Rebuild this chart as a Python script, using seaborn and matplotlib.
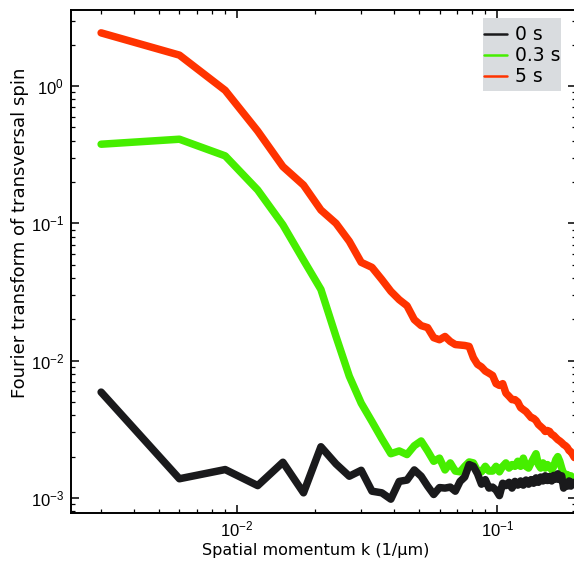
import matplotlib
matplotlib.use("Agg")
import matplotlib.pyplot as plt
from matplotlib.patches import Rectangle
import numpy as np
import pandas as pd
import seaborn as sns

# spatial momentum grid (1/um)
k_values = [
    0.003, 0.006, 0.009, 0.012, 0.015, 0.018, 0.021, 0.024, 0.027, 0.030,
    0.033, 0.036, 0.039, 0.042, 0.045, 0.048, 0.051, 0.054, 0.057, 0.060,
    0.063, 0.066, 0.069, 0.072, 0.075, 0.078, 0.081, 0.084, 0.087, 0.090,
    0.093, 0.096, 0.099, 0.102, 0.105, 0.108, 0.111, 0.114, 0.117, 0.120,
    0.123, 0.126, 0.129, 0.132, 0.135, 0.138, 0.141, 0.144, 0.147, 0.150,
    0.153, 0.156, 0.159, 0.162, 0.165, 0.168, 0.171, 0.174, 0.177, 0.180,
    0.183, 0.186, 0.189, 0.192, 0.195, 0.198,
]

spin_0s = [
    0.0059, 0.00138, 0.00161, 0.00123, 0.00182, 0.00109, 0.00236, 0.00177, 0.00144, 0.00159,
    0.00112, 0.00109, 0.00098, 0.00132, 0.00135, 0.00160, 0.00144, 0.00122, 0.00106, 0.00119,
    0.00118, 0.00120, 0.00112, 0.00132, 0.00142, 0.00175, 0.00170, 0.00150, 0.00126, 0.00136,
    0.00118, 0.00120, 0.00114, 0.00104, 0.00128, 0.00123, 0.00130, 0.00118, 0.00132, 0.00124,
    0.00133, 0.00124, 0.00135, 0.00126, 0.00136, 0.00128, 0.00140, 0.00130, 0.00142, 0.00133,
    0.00145, 0.00134, 0.00143, 0.00133, 0.00146, 0.00137, 0.00150, 0.00136, 0.00145, 0.00118,
    0.00127, 0.00122, 0.00133, 0.00122, 0.00130, 0.00127,
]

spin_03s = [
    0.377, 0.41, 0.31, 0.175, 0.0975, 0.054, 0.033, 0.015, 0.0077, 0.0049,
    0.0036, 0.0027, 0.0021, 0.0022, 0.00207, 0.0024, 0.0026, 0.0022, 0.00185, 0.00195,
    0.0016, 0.0018, 0.00157, 0.00155, 0.0017, 0.00183, 0.0018, 0.00157, 0.00155, 0.0017,
    0.00157, 0.00157, 0.0017, 0.00155, 0.0017, 0.0018, 0.00165, 0.00175, 0.0017, 0.00185,
    0.0017, 0.00195, 0.0017, 0.00165, 0.0018, 0.00195, 0.0021, 0.00175, 0.00165, 0.0018,
    0.00165, 0.00175, 0.0017, 0.0016, 0.0017, 0.0019, 0.0020, 0.00185, 0.00165, 0.0015,
    0.00148, 0.00148, 0.00143, 0.00145, 0.0014, 0.00138,
]

spin_5s = [
    2.44, 1.68, 0.93, 0.47, 0.259, 0.19, 0.125, 0.100, 0.074, 0.052,
    0.0478, 0.039, 0.032, 0.0278, 0.0251, 0.0199, 0.018, 0.0174, 0.0147, 0.0142,
    0.015, 0.0138, 0.0131, 0.0130, 0.0129, 0.0127, 0.0105, 0.0094, 0.0090, 0.0084,
    0.0081, 0.0078, 0.0068, 0.0066, 0.0068, 0.0058, 0.0055, 0.0052, 0.0052, 0.0050,
    0.00455, 0.0044, 0.00426, 0.00405, 0.00385, 0.0038, 0.00366, 0.00343, 0.00331, 0.0032,
    0.00305, 0.0031, 0.00305, 0.0029, 0.00285, 0.00275, 0.00266, 0.0026, 0.00253, 0.00245,
    0.0024, 0.00233, 0.00221, 0.00217, 0.00207, 0.00197,
]

labels = ["0 s", "0.3 s", "5 s"]
colors = {"0 s": "#1a1a1c", "0.3 s": "#46ee00", "5 s": "#ff3300"}

frames = []
for lab, vals in zip(labels, [spin_0s, spin_03s, spin_5s]):
    frames.append(pd.DataFrame({"k": k_values, "spin": vals, "time": lab}))
df = pd.concat(frames, ignore_index=True)

sns.set_style("white")
plt.rcParams["font.family"] = ["DejaVu Sans"]
plt.rcParams["text.color"] = "black"
plt.rcParams["axes.labelcolor"] = "black"
plt.rcParams["xtick.color"] = "black"
plt.rcParams["ytick.color"] = "black"

W, H = 574, 567
fig = plt.figure(figsize=(W / 100, H / 100), dpi=100)
left, right, top, bottom = 71, 575.5, 10, 513
ax = fig.add_axes([left / W, 1 - bottom / H, (right - left) / W, (bottom - top) / H])


def ax_xy(px, py):
    """Pixel position in the figure -> axes fraction."""
    return (px - left) / (right - left), (bottom - py) / (bottom - top)


# draw the later times first so the 0 s curve sits on top
for lab in ["5 s", "0.3 s", "0 s"]:
    sns.lineplot(data=df[df["time"] == lab], x="k", y="spin", color=colors[lab],
                 linewidth=5.4, estimator=None, sort=False, ax=ax, legend=False)

ax.set_xscale("log")
ax.set_yscale("log")
ax.set_xlim(0.002298, 0.2)
ax.set_ylim(7.77e-4, 3.58)

for s in ax.spines.values():
    s.set_linewidth(1.4)
    s.set_color("black")

ax.tick_params(which="both", direction="in", top=True, right=True, bottom=True, left=True,
               color="black", labelcolor="black")
ax.tick_params(which="major", length=6, width=1.1, labelsize=12, pad=5)
ax.tick_params(which="minor", length=3, width=0.9)
for t in ax.get_xticklabels() + ax.get_yticklabels():
    t.set_fontfamily("Liberation Sans")

ax.set_xlabel("Spatial momentum k (1/\u03bcm)", fontsize=11.5, va="center", color="black")
ax.set_ylabel("Fourier transform of transversal spin", fontsize=13.0, va="center", color="black")
ax.xaxis.set_label_coords(*ax_xy(316, 551))
ax.yaxis.set_label_coords(*ax_xy(20, 233))

# legend: grey panel with the entries laid over it
x0, y0 = ax_xy(483, 91)
x1, y1 = ax_xy(561, 18)
ax.add_patch(Rectangle((x0, y0), x1 - x0, y1 - y0, transform=ax.transAxes,
                       facecolor="#d9dcdf", edgecolor="none", zorder=4.9))
handles = [plt.Line2D([], [], color=colors[l], linewidth=1.8) for l in labels]
leg = ax.legend(handles, labels, loc="upper left", bbox_to_anchor=ax_xy(484, 25.5),
                fontsize=13.5, frameon=False, borderpad=0.0, handlelength=1.2,
                handletextpad=0.45, labelspacing=0.1, borderaxespad=0.0)
for t in leg.get_texts():
    t.set_color("black")

fig.savefig("out.png", dpi=100)
